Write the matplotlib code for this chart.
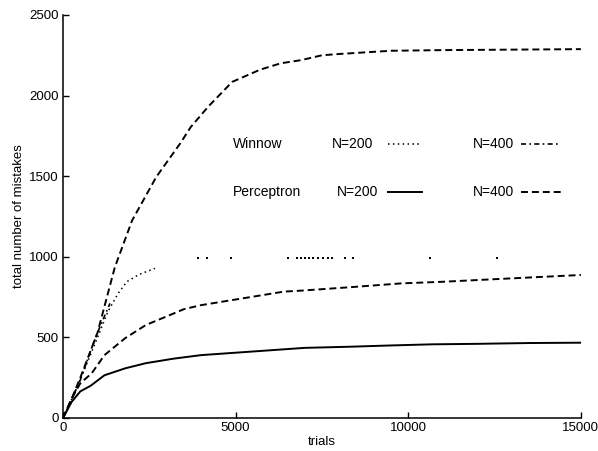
import matplotlib
matplotlib.use('Agg')
import matplotlib.pyplot as plt
import numpy as np

plt.rcParams['font.family'] = ['Liberation Sans', 'DejaVu Sans']

# curves
upper_dashed_x = [0, 250, 500, 1000, 1500, 2000, 2700, 3400, 3700, 4200, 4900, 5700, 6300, 6900, 7500, 8000, 9500, 11000, 13000, 15000]
upper_dashed_y = [0, 120, 250, 530, 935, 1225, 1495, 1705, 1805, 1930, 2085, 2160, 2200, 2220, 2250, 2258, 2278, 2282, 2285, 2288]

perceptron_400_x = [0, 250, 500, 830, 1200, 1800, 2400, 3000, 3500, 4000, 5000, 6400, 6900, 8300, 9800, 11000, 12600, 14800, 15000]
perceptron_400_y = [0, 120, 215, 277, 390, 495, 577, 630, 675, 700, 735, 784, 790, 811, 835, 845, 862, 885, 887]

perceptron_200_x = [0, 250, 500, 800, 1200, 1800, 2400, 3200, 4000, 5000, 6000, 7000, 8300, 9500, 10700, 12000, 13500, 15000]
perceptron_200_y = [0, 100, 165, 200, 265, 308, 340, 368, 390, 405, 420, 435, 442, 450, 457, 460, 465, 467]

winnow_400_x = [0, 250, 500, 880, 1070, 1360]
winnow_400_y = [0, 115, 236, 463, 566, 711]

winnow_200_x = [0, 300, 600, 1000, 1300, 1600, 1850, 2200, 2663]
winnow_200_y = [0, 140, 290, 500, 660, 774, 846, 890, 928]

# what survived of the flat dotted part at ~1000
winnow_200_tail_x = [3909, 4169, 4864, 6514, 6775, 6891, 7006, 7122, 7238, 7383, 7528, 7673, 7788, 8164, 8396, 10625, 12565]
winnow_200_tail_y = [995] * len(winnow_200_tail_x)

fig = plt.figure(figsize=(5.98, 4.51), dpi=100)
ax = fig.add_axes([0.1054, 0.0732, 0.866, 0.8936])

lw = 1.4
ax.plot(upper_dashed_x, upper_dashed_y, color='black', lw=lw, dashes=(3.6, 2.0))
ax.plot(perceptron_400_x, perceptron_400_y, color='black', lw=lw, dashes=(3.6, 2.0))
ax.plot(perceptron_200_x, perceptron_200_y, color='black', lw=lw)
ax.plot(winnow_400_x, winnow_400_y, color='black', lw=1.2, dashes=(3, 2, 1, 2))
ax.plot(winnow_200_x, winnow_200_y, color='black', lw=1.1, dashes=(1, 2.2))
ax.scatter(winnow_200_tail_x, winnow_200_tail_y, s=2, color='black', marker='s', linewidths=0)

ax.set_xlim(0, 15000)
ax.set_ylim(0, 2500)
ax.set_xticks([0, 5000, 10000, 15000])
ax.set_yticks([0, 500, 1000, 1500, 2000, 2500])
ax.tick_params(direction='in', length=4, width=1, labelsize=9.5, pad=3)
for s in ['top', 'right']:
    ax.spines[s].set_visible(False)
for s in ['left', 'bottom']:
    ax.spines[s].set_linewidth(1.1)

ax.set_xlabel('trials', fontsize=9.5, labelpad=1)
ax.set_ylabel('total number of mistakes', fontsize=9.5, labelpad=3)

# hand-drawn style key inside the plot
tr = ax.transAxes
fs = 10
ax.text(0.328, 0.680, 'Winnow', transform=tr, fontsize=fs, va='center')
ax.text(0.328, 0.561, 'Perceptron', transform=tr, fontsize=fs, va='center')
ax.text(0.519, 0.680, 'N=200', transform=tr, fontsize=fs, va='center')
ax.text(0.529, 0.561, 'N=200', transform=tr, fontsize=fs, va='center')
ax.text(0.792, 0.680, 'N=400', transform=tr, fontsize=fs, va='center')
ax.text(0.792, 0.561, 'N=400', transform=tr, fontsize=fs, va='center')
ax.plot([0.627, 0.689], [0.680, 0.680], transform=tr, color='black', lw=1.1, dashes=(1, 2.2))
ax.plot([0.884, 0.959], [0.680, 0.680], transform=tr, color='black', lw=1.2, dashes=(3, 2, 1, 2))
ax.plot([0.627, 0.693], [0.561, 0.561], transform=tr, color='black', lw=lw)
ax.plot([0.884, 0.963], [0.561, 0.561], transform=tr, color='black', lw=lw, dashes=(3.6, 2.0))

fig.savefig('out.png', dpi=100)
